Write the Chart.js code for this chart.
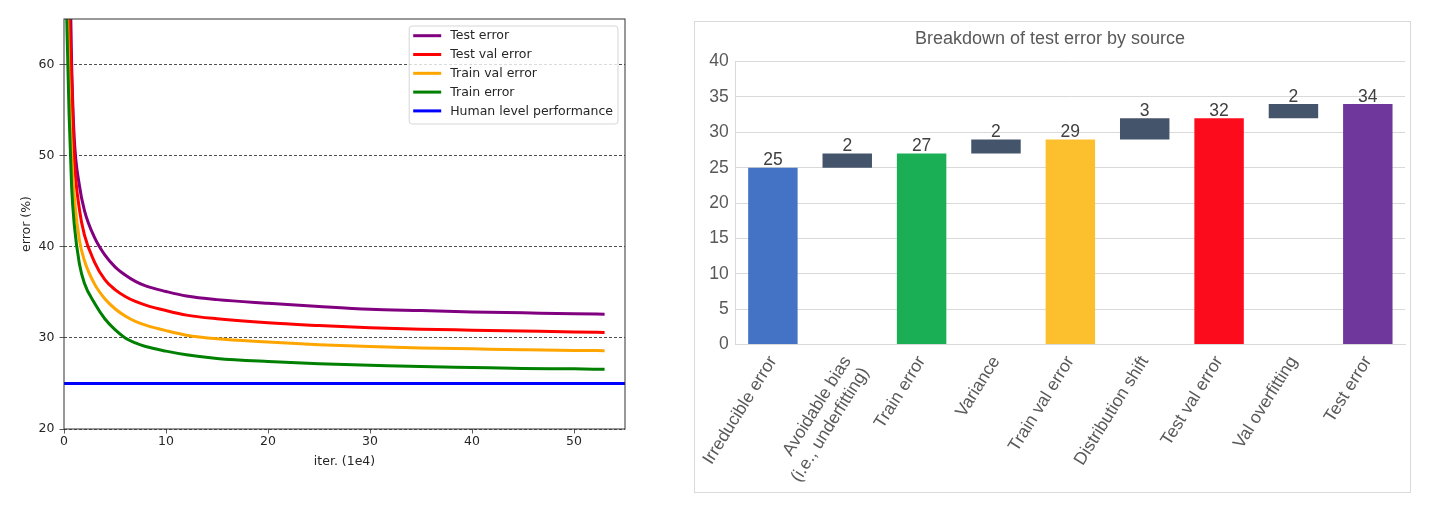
<!DOCTYPE html>
<html>
<head>
<meta charset="utf-8">
<script src="https://cdn.jsdelivr.net/npm/chart.js@4.4.1/dist/chart.umd.min.js"></script>
<style>
    html, body { margin: 0; padding: 0; background: #fff; }
    body { width: 1442px; height: 508px; position: relative; overflow: hidden; }
    #curves { position: absolute; left: 0; top: 0; }
    #breakdownBox { position: absolute; left: 694px; top: 21px; width: 715px; height: 470px; border: 1px solid #d9d9d9; }
    #breakdown { position: absolute; left: 0; top: 0; }
</style>
</head>
<body>
<canvas id="curves" width="660" height="508"></canvas>
<div id="breakdownBox"><canvas id="breakdown" width="715" height="470"></canvas></div>
<script>
// ---- left: learning curves (iterations in 1e4) ----
const iters         = [0.15, 0.3, 0.5, 0.75, 1, 1.5, 2, 3, 4, 5, 6, 7, 8, 10, 12, 15, 20, 25, 30, 35, 40, 45, 50, 53];
const testError     = [115, 90, 75, 60, 52, 46.8, 44.0, 41.0, 39.1, 37.8, 36.9, 36.2, 35.7, 35.1, 34.6, 34.2, 33.8, 33.45, 33.15, 33.0, 32.85, 32.75, 32.65, 32.6];
const testValError  = [95, 78, 67, 58.5, 50, 44.2, 41.3, 38.3, 36.4, 35.3, 34.55, 34.0, 33.6, 33.0, 32.5, 32.1, 31.65, 31.35, 31.1, 30.95, 30.85, 30.75, 30.65, 30.6];
const trainValError = [80, 68, 57.5, 50, 45.5, 40.8, 38.5, 35.9, 34.3, 33.2, 32.4, 31.8, 31.4, 30.8, 30.3, 29.9, 29.55, 29.25, 29.05, 28.9, 28.8, 28.7, 28.62, 28.6];
const trainError    = [72, 63.5, 54.5, 46.5, 42.5, 38.2, 36.0, 33.8, 32.1, 30.9, 30.0, 29.45, 29.05, 28.55, 28.15, 27.75, 27.4, 27.15, 27.0, 26.85, 26.75, 26.65, 26.6, 26.55];
const humanX        = [0, 55];
const humanY        = [25, 25];

// ---- right: waterfall breakdown ----
const sources = ['Irreducible error', ['Avoidable bias', '(i.e., underfitting)'], 'Train error', 'Variance',
    'Train val error', 'Distribution shift', 'Test val error', 'Val overfitting', 'Test error'];
const barStart = [0, 25, 0, 27, 0, 29, 0, 32, 0];
const barEnd   = [25, 27, 27, 29, 29, 32, 32, 34, 34];
const barColors = ['#4472c4', '#44546a', '#1aaf54', '#44546a', '#fcbf2e', '#44546a', '#fc0b1d', '#44546a', '#6f369b'];

const toPoints = (xs, ys) => xs.map((x, i) => ({ x, y: ys[i] }));
const MPL_FONT = { family: '"DejaVu Sans", sans-serif', size: 12.5 };
const XL_FONT = '"Liberation Sans", Arial, sans-serif';

// matplotlib-ish box around the axes
const axesFrame = {
    id: 'axesFrame',
    afterDatasetsDraw(chart) {
        const { ctx, chartArea: a } = chart;
        ctx.save();
        ctx.strokeStyle = '#333';
        ctx.lineWidth = 1;
        ctx.strokeRect(a.left, a.top, a.right - a.left, a.bottom - a.top);
        ctx.restore();
    },
};

// legend box in the upper right of the plot, like plt.legend()
const insideLegend = {
    id: 'insideLegend',
    afterDraw(chart) {
        const { ctx, chartArea: a } = chart;
        const sets = chart.data.datasets;
        ctx.save();
        ctx.font = '12.5px "DejaVu Sans"';
        const textW = Math.max(...sets.map((d) => ctx.measureText(d.label).width));
        const w = 41 + textW + 5;
        const h = 98;
        const x0 = a.right - 7 - w;
        const y0 = a.top + 7;
        ctx.beginPath();
        ctx.roundRect(x0, y0, w, h, 3);
        ctx.fillStyle = 'rgba(255,255,255,0.8)';
        ctx.fill();
        ctx.strokeStyle = 'rgba(204,204,204,0.8)';
        ctx.lineWidth = 1;
        ctx.stroke();
        sets.forEach((d, i) => {
            const y = y0 + 9.7 + i * 18.8;
            ctx.beginPath();
            ctx.moveTo(x0 + 4, y);
            ctx.lineTo(x0 + 32, y);
            ctx.strokeStyle = d.borderColor;
            ctx.lineWidth = 3;
            ctx.stroke();
            ctx.fillStyle = '#262626';
            ctx.textBaseline = 'middle';
            ctx.fillText(d.label, x0 + 41, y + 0.5);
        });
        ctx.restore();
    },
};

const lineSet = (label, color, pts, order) => ({
    label, data: pts, borderColor: color, backgroundColor: color,
    borderWidth: 3, pointRadius: 0, cubicInterpolationMode: 'monotone', order,
});

new Chart(document.getElementById('curves'), {
    type: 'line',
    data: {
        datasets: [
            lineSet('Test error', '#800080', toPoints(iters, testError), 4),
            lineSet('Test val error', '#ff0000', toPoints(iters, testValError), 3),
            lineSet('Train val error', '#ffa500', toPoints(iters, trainValError), 2),
            lineSet('Train error', '#008000', toPoints(iters, trainError), 1),
            lineSet('Human level performance', '#0000ff', toPoints(humanX, humanY), 0),
        ],
    },
    options: {
        responsive: false,
        animation: false,
        layout: { padding: { top: 19, right: 35, left: 0, bottom: 0 } },
        plugins: { legend: { display: false }, tooltip: { enabled: false } },
        scales: {
            x: {
                type: 'linear', min: 0, max: 55,
                ticks: { stepSize: 10, includeBounds: false, font: MPL_FONT, color: '#262626', padding: 1, maxRotation: 0 },
                grid: { drawOnChartArea: false, tickLength: 4.5, tickColor: '#333', tickWidth: 0.8 },
                border: { display: false },
                title: { display: true, text: 'iter. (1e4)', font: MPL_FONT, color: '#262626', padding: { top: 0, bottom: 39 } },
                afterFit: (s) => { s.height = 79; s.paddingLeft = 0; s.paddingRight = 0; },
            },
            y: {
                min: 20, max: 65,
                ticks: { stepSize: 10, includeBounds: false, font: MPL_FONT, color: '#262626', padding: 5 },
                grid: { color: '#222', lineWidth: 0.8, tickLength: 4.5, tickColor: '#333', tickWidth: 0.8 },
                border: { display: false, dash: [3, 2] },
                title: { display: true, text: 'error (%)', font: MPL_FONT, color: '#262626', padding: { top: 19, bottom: 0 } },
                afterFit: (s) => { s.width = 64; s.paddingTop = 0; s.paddingBottom = 0; },
            },
        },
    },
    plugins: [axesFrame, insideLegend],
});

// value printed above each bar (size of the step for floating bars)
const barValueLabels = {
    id: 'barValueLabels',
    afterDatasetsDraw(chart) {
        const { ctx } = chart;
        const meta = chart.getDatasetMeta(0);
        ctx.save();
        ctx.font = `17.5px ${XL_FONT}`;
        ctx.fillStyle = '#404040';
        ctx.textAlign = 'center';
        ctx.textBaseline = 'alphabetic';
        meta.data.forEach((bar, i) => {
            const top = Math.min(bar.y, bar.base);
            ctx.fillText(String(barEnd[i] - barStart[i]), bar.x, top - 2.5);
        });
        ctx.restore();
    },
};

new Chart(document.getElementById('breakdown'), {
    type: 'bar',
    data: {
        labels: sources,
        datasets: [{
            data: barStart.map((s, i) => [s, barEnd[i]]),
            backgroundColor: barColors,
            barPercentage: 0.665,
            categoryPercentage: 1,
        }],
    },
    options: {
        responsive: false,
        animation: false,
        layout: { padding: { top: 0, right: 5, left: 0, bottom: 0 } },
        plugins: {
            legend: { display: false },
            tooltip: { enabled: false },
            title: {
                display: true, text: 'Breakdown of test error by source',
                font: { family: XL_FONT, size: 18, weight: 'normal' }, color: '#595959',
                padding: { top: 6, bottom: 12 },
            },
        },
        scales: {
            x: {
                ticks: { font: { family: XL_FONT, size: 17.5 }, color: '#595959', minRotation: 58, maxRotation: 58, padding: 8, autoSkip: false },
                grid: { display: false, drawTicks: false },
                border: { display: true, color: '#d9d9d9', width: 1 },
                afterFit: (s) => { s.height = 147.5; s.paddingLeft = 0; s.paddingRight = 0; },
            },
            y: {
                min: 0, max: 40,
                ticks: { stepSize: 5, font: { family: XL_FONT, size: 17.5 }, color: '#595959', padding: 7 },
                grid: { color: '#d9d9d9', lineWidth: 1, drawTicks: false },
                border: { display: true, color: '#d9d9d9', width: 1 },
                afterFit: (s) => { s.width = 40.7; s.paddingTop = 0; s.paddingBottom = 0; },
            },
        },
    },
    plugins: [barValueLabels],
});
</script>
</body>
</html>
